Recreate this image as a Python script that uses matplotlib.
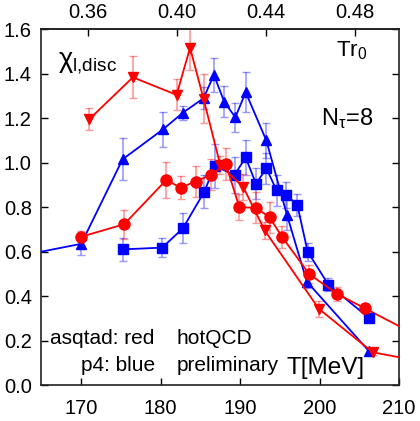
import matplotlib
matplotlib.use("Agg")
import matplotlib.pyplot as plt
import numpy as np

plt.rcParams['font.family'] = ['Liberation Sans', 'DejaVu Sans']
plt.rcParams['mathtext.fontset'] = 'custom'
plt.rcParams['mathtext.rm'] = 'Liberation Sans'
plt.rcParams['mathtext.it'] = 'Liberation Sans'
plt.rcParams['mathtext.default'] = 'regular'

# asqtad (red), down triangles
rt_T = [171.0, 176.5, 182.0, 183.7, 185.4, 187.5, 190.4, 193.1, 199.9, 206.7]
rt_y = [1.195, 1.384, 1.305, 1.517, 1.287, 0.99, 0.89, 0.695, 0.343, 0.147]
rt_e = [0.05, 0.095, 0.07, 0.10, 0.11, 0.04, 0.06, 0.04, 0.035, 0.012]
rt_tail_T = [210.0]
rt_tail_y = [0.125]

# asqtad (red), circles
rc_T = [170.0, 175.4, 180.7, 182.5, 184.4, 186.3, 188.2, 189.9, 192.0, 193.7, 195.3, 198.7, 202.2, 205.7]
rc_y = [0.667, 0.723, 0.922, 0.888, 0.915, 0.945, 0.994, 0.80, 0.797, 0.755, 0.665, 0.499, 0.41, 0.345]
rc_e = [0.025, 0.065, 0.08, 0.05, 0.07, 0.07, 0.07, 0.06, 0.07, 0.07, 0.05, 0.04, 0.03, 0.02]
rc_tail_T = [210.0]
rc_tail_y = [0.265]

# p4 (blue), up triangles
bt_T = [170.0, 175.2, 180.3, 182.8, 185.4, 186.7, 188.0, 189.4, 190.7, 193.3, 195.9, 198.4, 206.2]
bt_y = [0.635, 1.015, 1.15, 1.225, 1.29, 1.395, 1.274, 1.204, 1.317, 1.10, 0.765, 0.465, 0.153]
bt_e = [0.05, 0.095, 0.08, 0.032, 0.05, 0.075, 0.07, 0.064, 0.09, 0.08, 0.07, 0.03, 0.012]
bt_head_T = [165.0]
bt_head_y = [0.60]

# p4 (blue), squares
bs_T = [175.2, 180.2, 182.8, 185.5, 186.8, 189.3, 190.7, 192.0, 193.3, 194.6, 195.8, 197.2, 198.5, 201.1, 206.2]
bs_y = [0.61, 0.618, 0.705, 0.87, 0.985, 0.945, 1.024, 0.905, 0.975, 0.875, 0.855, 0.81, 0.60, 0.452, 0.302]
bs_e = [0.053, 0.044, 0.067, 0.075, 0.1, 0.08, 0.08, 0.07, 0.07, 0.07, 0.06, 0.05, 0.04, 0.03, 0.02]

x_ticks = [170, 180, 190, 200, 210]
y_ticks = [0.0, 0.2, 0.4, 0.6, 0.8, 1.0, 1.2, 1.4, 1.6]
top_ticks = [0.36, 0.40, 0.44, 0.48]

RED = '#ff0000'
BLUE = '#0000ff'

fig = plt.figure(figsize=(4.2, 4.21), dpi=100)
ax = fig.add_axes([0.0988, 0.0855, 0.8512, 0.8449])

def series(T, y, e, color, marker, ms, lx=None, ly=None):
    ax.errorbar(T, y, yerr=e, fmt='none', ecolor=color, alpha=0.4,
                elinewidth=1.2, capsize=3, capthick=1.0, zorder=2)
    if lx is not None:
        ax.plot(lx, ly, color=color, lw=1.3, zorder=3)
    ax.plot(T, y, color=color, lw=1.3, marker=marker, ms=ms,
            markeredgecolor=color, markerfacecolor=color, zorder=4)

series(bs_T, bs_y, bs_e, BLUE, 's', 7.5)
series(bt_T, bt_y, bt_e, BLUE, '^', 7.5, bt_head_T + bt_T[:1], bt_head_y + bt_y[:1])
series(rc_T, rc_y, rc_e, RED, 'o', 8.0, rc_T[-1:] + rc_tail_T, rc_y[-1:] + rc_tail_y)
series(rt_T, rt_y, rt_e, RED, 'v', 7.5, rt_T[-1:] + rt_tail_T, rt_y[-1:] + rt_tail_y)

ax.set_xlim(165, 210)
ax.set_ylim(0.0, 1.6)
ax.set_xticks(x_ticks)
ax.set_xticklabels([str(v) for v in x_ticks])
ax.set_yticks(y_ticks)
ax.set_yticklabels([f'{v:.1f}' for v in y_ticks])
ax.tick_params(axis='x', direction='in', length=5, width=1.0, labelsize=14.5, pad=10,
               top=False, bottom=True)
ax.tick_params(axis='y', direction='in', length=5, width=1.0, labelsize=14.5, pad=7,
               left=True, right=True)
for s in ax.spines.values():
    s.set_linewidth(1.2)
    s.set_color('#222222')

def t2r(T):
    return (np.asarray(T) - 70.19) / 279.75

def r2t(r):
    return np.asarray(r) * 279.75 + 70.19

sec = ax.secondary_xaxis('top', functions=(t2r, r2t))
sec.set_xticks(top_ticks)
sec.set_xticklabels([f'{v:.2f}' for v in top_ticks])
sec.tick_params(direction='in', length=5, width=1.0, labelsize=14.5, pad=5)
sec.spines['top'].set_linewidth(1.2)
sec.spines['top'].set_color('#222222')

tr = ax.transAxes
ax.text(0.046, 0.895, r'$\chi_{l{,}disc}$', transform=tr, fontsize=19.5, ha='left', va='baseline')
ax.text(0.824, 0.923, r'$Tr_0$', transform=tr, fontsize=16, ha='left', va='baseline')
ax.text(0.781, 0.731, r'$N_{\tau}$=8', transform=tr, fontsize=17, ha='left', va='baseline')
ax.text(0.317, 0.115, 'asqtad: red', transform=tr, fontsize=15, ha='right', va='baseline')
ax.text(0.317, 0.038, 'p4: blue', transform=tr, fontsize=15, ha='right', va='baseline')
ax.text(0.378, 0.115, 'hotQCD', transform=tr, fontsize=15, ha='left', va='baseline')
ax.text(0.378, 0.038, 'preliminary', transform=tr, fontsize=15, ha='left', va='baseline')
ax.text(0.686, 0.03, 'T[MeV]', transform=tr, fontsize=17.5, ha='left', va='baseline')

fig.savefig('out.png', dpi=100)
